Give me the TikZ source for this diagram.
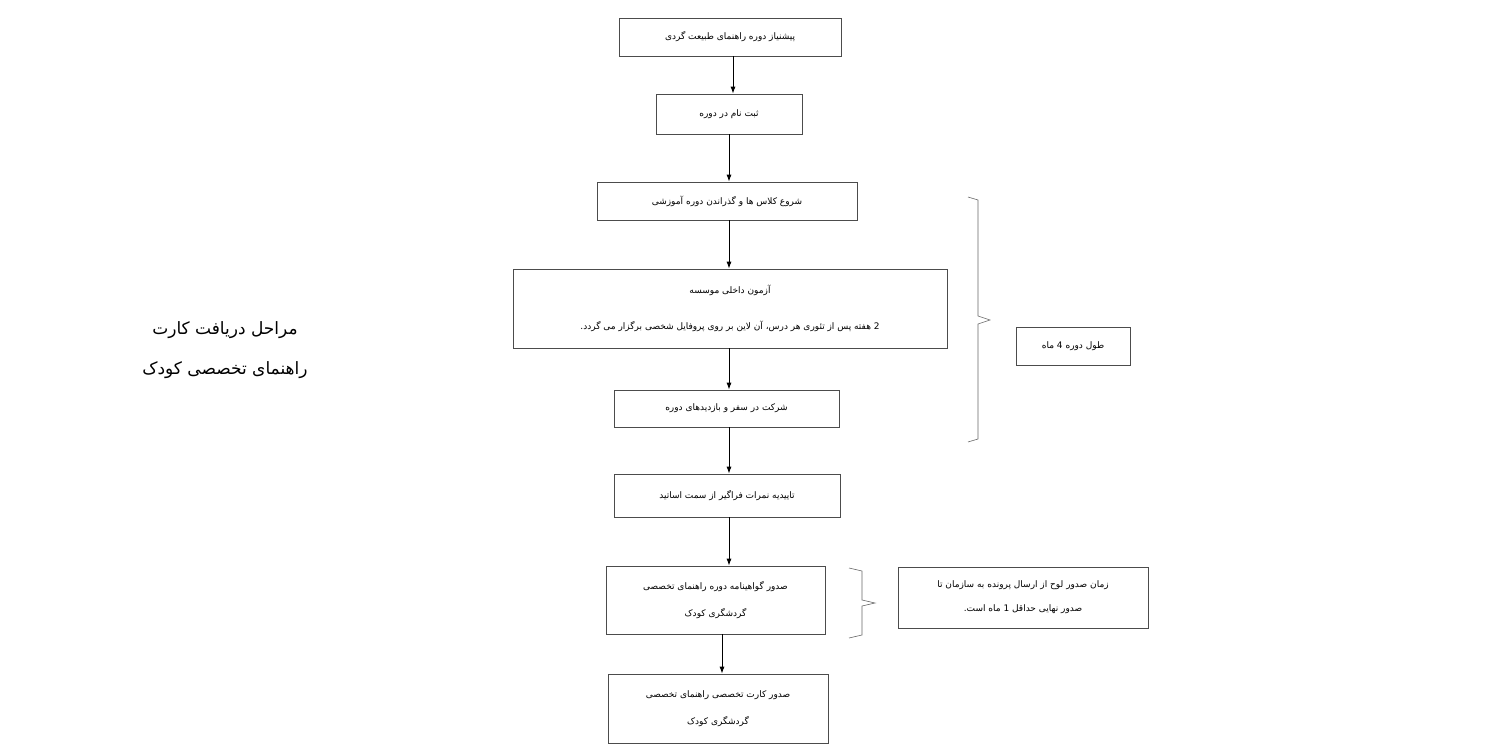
\documentclass[tikz,border=0pt]{standalone}
\usepackage{fontspec}
\TeXXeTstate=1
\newfontfamily\arabicfont[Script=Arabic]{DejaVu Sans}
\newcommand{\fa}[1]{\beginR #1\endR}
\begin{document}
\begin{tikzpicture}[x=1pt,y=-1pt,
  bx/.style={draw=black!70,line width=0.6pt,minimum width=#1,align=center,font=\arabicfont\fontsize{9}{20}\selectfont,inner sep=0pt},
  arr/.style={-{Latex[length=7pt,width=5pt]},line width=1pt},
  brc/.style={draw=black!60,line width=0.6pt}]
\useasboundingbox (0,0) rectangle (1488,744);
\usetikzlibrary{arrows.meta}
\node[bx=222pt,minimum height=38pt] (b1) at (730,37) {\fa{پیشنیاز دوره راهنمای طبیعت گردی}};
\node[bx=146pt,minimum height=40pt] (b2) at (729,114) {\fa{ثبت نام در دوره}};
\node[bx=260pt,minimum height=38pt] (b3) at (727,201) {\fa{شروع کلاس ها و گذراندن دوره آموزشی}};
\node[bx=434pt,minimum height=79pt,font=\arabicfont\fontsize{9}{36}\selectfont] (b4) at (730,308.5) {\fa{آزمون داخلی موسسه}\\\fa{2 هفته پس از تئوری هر درس، آن لاین بر روی پروفایل شخصی برگزار می گردد.}};
\node[bx=225pt,minimum height=37pt] (b5) at (726.5,408.5) {\fa{شرکت در سفر و بازدیدهای دوره}};
\node[bx=226pt,minimum height=43pt] (b6) at (727,495.5) {\fa{تاییدیه نمرات فراگیر از سمت اساتید}};
\node[bx=219pt,minimum height=68pt,font=\arabicfont\fontsize{9}{27}\selectfont] (b7) at (715.5,600) {\fa{صدور گواهینامه دوره راهنمای تخصصی}\\\fa{گردشگری کودک}};
\node[bx=220pt,minimum height=69pt,font=\arabicfont\fontsize{9}{27}\selectfont] (b8) at (718,708.5) {\fa{صدور کارت تخصصی راهنمای تخصصی}\\\fa{گردشگری کودک}};
\node[bx=114pt,minimum height=38pt] (s1) at (1073,346) {\fa{طول دوره 4 ماه}};
\node[bx=250pt,minimum height=61pt,font=\arabicfont\fontsize{9}{24}\selectfont] (s2) at (1023,597.5) {\fa{زمان صدور لوح از ارسال پرونده به سازمان تا}\\\fa{صدور نهایی حداقل 1 ماه است.}};
\node[align=center,font=\arabicfont\fontsize{17}{40}\selectfont] (t) at (225,350) {\fa{مراحل دریافت کارت}\\\fa{راهنمای تخصصی کودک}};
\draw[arr] (b1.south -| 733,0) -- (b2.north -| 733,0);
\draw[arr] (b2.south -| 729,0) -- (b3.north -| 729,0);
\draw[arr] (b3.south -| 729,0) -- (b4.north -| 729,0);
\draw[arr] (b4.south -| 729,0) -- (b5.north -| 729,0);
\draw[arr] (b5.south -| 729,0) -- (b6.north -| 729,0);
\draw[arr] (b6.south -| 729,0) -- (b7.north -| 729,0);
\draw[arr] (b7.south -| 722,0) -- (b8.north -| 722,0);
\draw[brc] (968,197) -- (978,200) -- (978,316) -- (990,320) -- (978,324) -- (978,439) -- (968,442);
\draw[brc] (849,568) -- (862,571) -- (862,600) -- (875,603) -- (862,606) -- (862,635) -- (849,638);
\end{tikzpicture}
\end{document}
